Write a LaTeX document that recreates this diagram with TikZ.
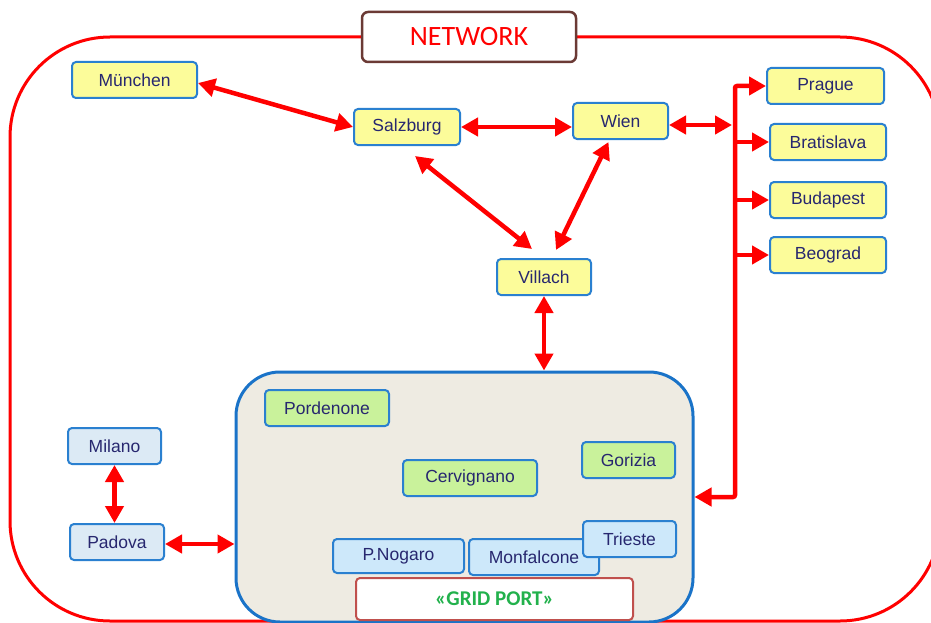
\documentclass[tikz,border=0pt]{standalone}
\usepackage{fontspec}
\setmainfont{Liberation Sans}
\newfontfamily\calfont{Carlito}
\usetikzlibrary{arrows.meta,calc}
\definecolor{boxblue}{HTML}{2A80D0}
\definecolor{navytext}{HTML}{27276F}
\definecolor{yellowfill}{HTML}{FCFC9A}
\definecolor{greenfill}{HTML}{C9F29B}
\definecolor{milanofill}{HTML}{DCEAF5}
\definecolor{lbluefill}{HTML}{CDE8FA}
\definecolor{gridfill}{HTML}{EEEBE2}
\definecolor{gridblue}{HTML}{1A73C8}
\definecolor{netbrown}{HTML}{6B3A35}
\definecolor{portred}{HTML}{C0504D}
\definecolor{portgreen}{HTML}{22B14C}
\tikzset{
  city/.style={draw=boxblue, line width=2pt, rounded corners=4pt, text=navytext,
    font=\fontsize{17.5}{19}\selectfont, minimum height=36pt, inner sep=0pt},
  ycity/.style={city, fill=yellowfill},
  gcity/.style={city, fill=greenfill},
  mcity/.style={city, fill=milanofill},
  bcity/.style={city, fill=lbluefill},
  link/.style={draw=red, line width=4.5pt},
  biarrow/.style={link, {Triangle[length=17pt,width=18pt]}-{Triangle[length=17pt,width=18pt]}},
  oneway/.style={link, -{Triangle[length=17pt,width=18pt]}}
}
\begin{document}
\begin{tikzpicture}[x=1pt,y=-1pt]
\useasboundingbox (0,0) rectangle (931,623);
\clip (0,0) rectangle (931,623);
% outer network frame
\draw[red, line width=3pt, rounded corners=100pt] (10,37) rectangle (940,621);
\node[draw=netbrown, line width=2.5pt, fill=white, rounded corners=6pt,
  minimum width=214pt, minimum height=50pt, text=red,
  font=\calfont\fontsize{28}{30}\selectfont] (net) at (469,37) {NETWORK};

% grid region
\node[draw=gridblue, line width=3pt, fill=gridfill, rounded corners=44pt,
  minimum width=457pt, minimum height=250pt] (grid) at (464.5,497) {};

% cities
\node[ycity, minimum width=125pt] (muc) at (134.5,80) {München};
\node[ycity, minimum width=106pt] (sbg) at (407,127) {Salzburg};
\node[ycity, minimum width=95pt] (wien) at (620.5,121) {Wien};
\node[ycity, minimum width=94pt] (vil) at (544,277) {Villach};
\node[ycity, minimum width=117pt] (prg) at (825.5,86) {Prague};
\node[ycity, minimum width=116pt] (bts) at (828,142) {Bratislava};
\node[ycity, minimum width=116pt] (bud) at (828,200) {Budapest};
\node[ycity, minimum width=116pt] (beo) at (828,255) {Beograd};

\node[gcity, minimum width=124pt] (por) at (327,408) {Pordenone};
\node[gcity, minimum width=134pt] (cer) at (470,478) {Cervignano};
\node[gcity, minimum width=93pt] (gor) at (628.5,460) {Gorizia};
\node[bcity, minimum width=131pt, minimum height=34pt] (png) at (398.5,556) {P.Nogaro};
\node[bcity, minimum width=130pt] (mon) at (534,557) {Monfalcone};
\node[bcity, minimum width=93pt] (tri) at (629.5,539) {Trieste};

\node[mcity, minimum width=93pt] (mil) at (114.5,446) {Milano};
\node[mcity, minimum width=94pt] (pad) at (117,542) {Padova};

\node[draw=portred, line width=2pt, fill=white, rounded corners=4pt,
  minimum width=277pt, minimum height=42pt, text=portgreen,
  font=\calfont\bfseries\fontsize{21}{23}\selectfont] (port) at (494.5,599) {«GRID PORT»};

% bus coordinates
\coordinate (bt) at (735,86);
\coordinate (bb) at (735,497);

% connectors
\draw[biarrow] ([yshift=-3pt]muc.east) -- (sbg.west);
\draw[biarrow] (sbg.east) -- (sbg.east -| wien.west);
\draw[biarrow] ([shift={(8,10)}]sbg.south) -- ([shift={(-12,-9)}]vil.north);
\draw[biarrow] ([shift={(-12,2)}]wien.south) -- ([shift={(12,-8)}]vil.north);
\draw[biarrow] (vil.south) -- (vil.south |- grid.north);
\draw[biarrow] ([yshift=-4pt]wien.east) -- ([xshift=-3pt,yshift=-4pt]bt |- wien.east);
\draw[biarrow, rounded corners=2pt] (prg.west) -- (bt) -- (bb) -- (bb -| grid.east);
\draw[oneway] (bt |- bts.west) -- (bts.west);
\draw[oneway] (bt |- bud.west) -- (bud.west);
\draw[oneway] (bt |- beo.west) -- (beo.west);
\draw[biarrow] (mil.south) -- (mil.south |- pad.north);
\draw[biarrow] ([yshift=-2pt]pad.east) -- ([yshift=-2pt]pad.east -| grid.west);
\end{tikzpicture}
\end{document}
